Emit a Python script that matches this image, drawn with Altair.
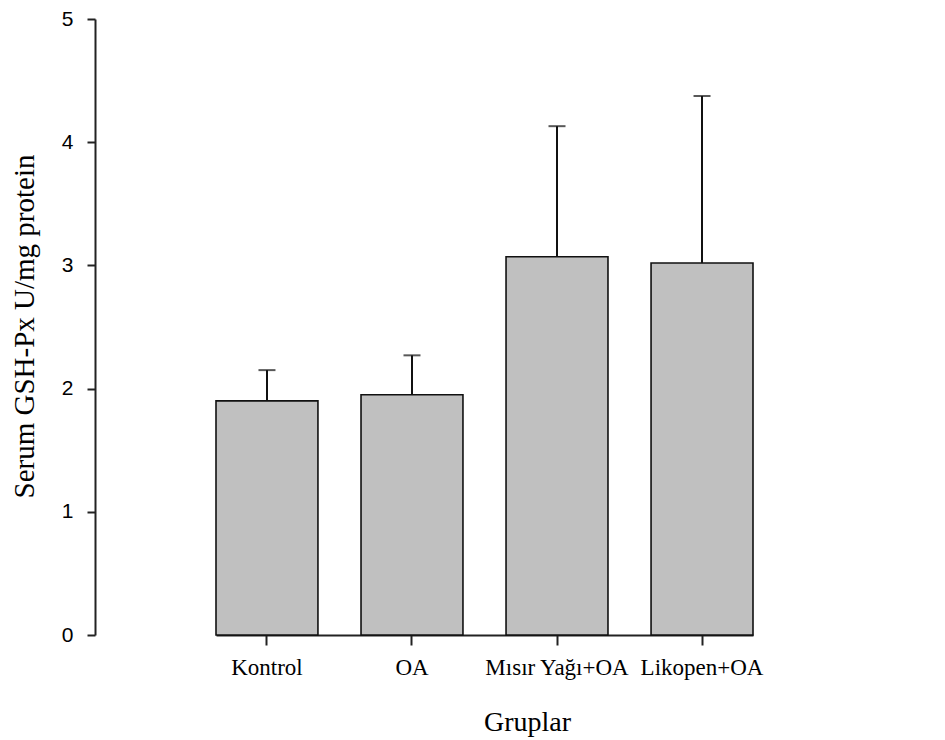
import altair as alt
import pandas as pd

groups = ["Kontrol", "OA", "Mısır Yağı+OA", "Likopen+OA"]
means = [1.90, 1.95, 3.07, 3.02]
upper = [2.15, 2.27, 4.13, 4.375]

df = pd.DataFrame({"grup": groups, "mean": means, "upper": upper})

xenc = alt.X(
    "grup:N",
    sort=groups,
    title="Gruplar",
    scale=alt.Scale(paddingInner=0.297, paddingOuter=0, range=[121, 658]),
    axis=alt.Axis(
        labelAngle=0,
        labelFont="Liberation Serif",
        labelFontSize=23,
        labelColor="black",
        labelPadding=11,
        tickSize=10,
        tickWidth=2,
        tickColor="#222",
        domainWidth=2,
        domainColor="#222",
        titleFont="Liberation Serif",
        titleFontSize=28,
        titleFontWeight="normal",
        titleColor="black",
        titleX=432,
        titleY=95,
        titleBaseline="alphabetic",
        titleAlign="center",
    ),
)

yscale = alt.Scale(domain=[0, 5], nice=False, zero=True)
yaxis = alt.Axis(
    values=[0, 1, 2, 3, 4, 5],
    format="d",
    grid=False,
    labelFont="Liberation Sans",
    labelFontSize=21,
    labelColor="black",
    labelPadding=14,
    tickSize=8,
    tickWidth=2,
    tickColor="#222",
    domainWidth=2,
    domainColor="#222",
    title="Serum GSH-Px U/mg protein",
    titleFont="Liberation Serif",
    titleFontSize=29,
    titleFontWeight="normal",
    titleColor="black",
    titleAngle=-90,
    titleX=-71,
    titleY=307,
    titleAlign="center",
    titleBaseline="middle",
)

bars = alt.Chart(df).mark_bar(
    color="#c0c0c0", stroke="#111", strokeWidth=1.6
).encode(
    x=xenc,
    y=alt.Y("mean:Q", scale=yscale, axis=yaxis),
)

rules = alt.Chart(df).mark_rule(color="#111", strokeWidth=2).encode(
    x=alt.X("grup:N", sort=groups),
    y="mean:Q",
    y2="upper:Q",
)

caps = alt.Chart(df).mark_tick(color="#111", size=17, thickness=2).encode(
    x=alt.X("grup:N", sort=groups),
    y="upper:Q",
)

chart = (
    alt.layer(bars, rules, caps)
    .properties(
        width=842,
        height=616,
        autosize=alt.AutoSizeParams(type="none"),
        padding={"left": 87, "top": 11, "right": 0, "bottom": 103},
    )
    .configure_view(stroke=None)
)

chart.save("out.html", embed_options={"renderer": "svg", "actions": False})
